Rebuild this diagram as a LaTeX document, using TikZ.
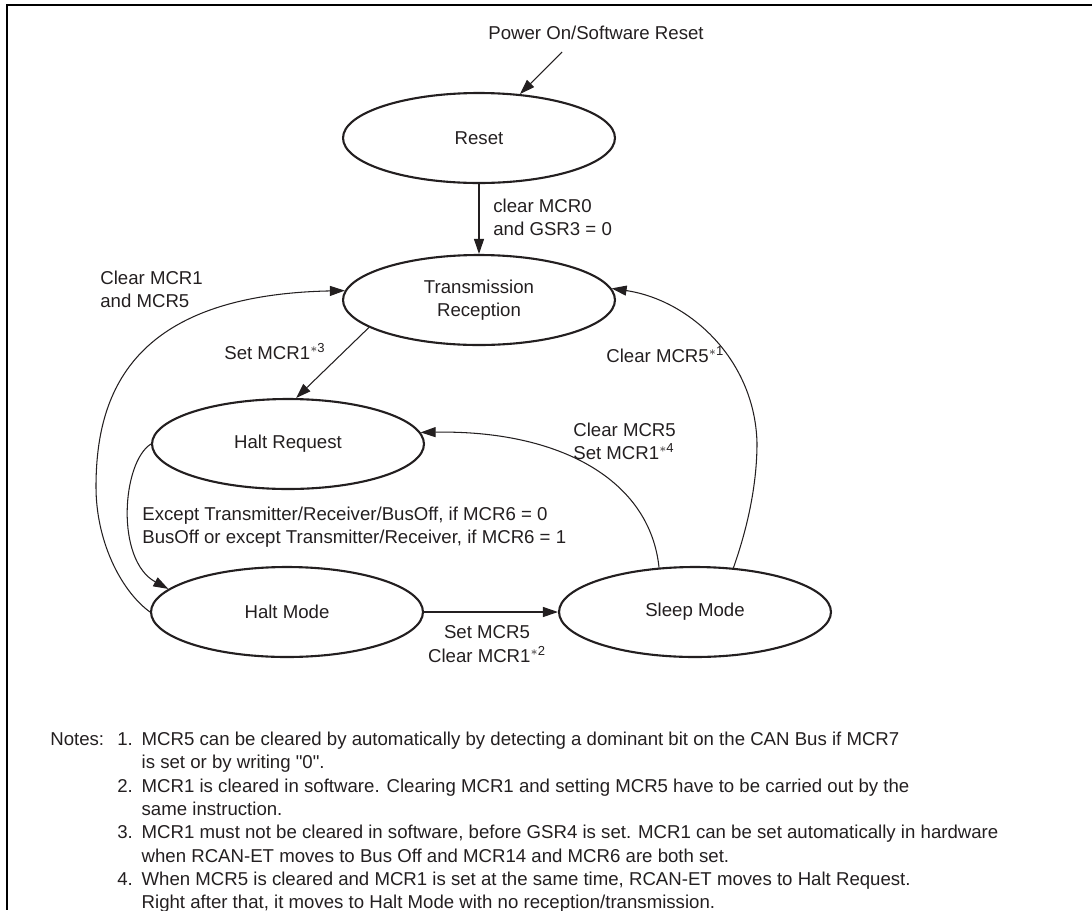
\documentclass[tikz,border=0pt]{standalone}
\usepackage{fontspec}
\setmainfont{Liberation Sans}
\usetikzlibrary{
  arrows.meta,
  shapes.geometric,
  positioning
}
\definecolor{rcInk}{HTML}{231F20}
\newcommand{\astnote}[1]{\textsuperscript{$\ast$#1}}
\tikzset{
  rctext/.style={font=\fontsize{10.6}{13.25}\selectfont, text=rcInk, inner sep=0pt},
  rcstate/.style={
    rctext, draw=rcInk, ellipse, line width=1.2pt,
    minimum width=5.44cm, minimum height=1.8cm, align=center
  },
  move/.style={-{Triangle[length=3mm, width=2mm]}, line width=0.6pt, rcInk},
  cond/.style={rctext, align=left, anchor=west},
  frameline/.style={line width=1.15pt, black}
}

\begin{document}
\begin{tikzpicture}[x=0.02cm, y=-0.02cm]
  \useasboundingbox (0,0) rectangle (1092,910);
  % frame
  \draw[frameline] (6,5) -- (1092,5);
  \draw[frameline] (7,5) -- (7,910);

  % states
  \node[rcstate] (reset) at (479,138) {Reset};
  \node[rcstate] (trx) at (479,300) {Transmission\\Reception};
  \node[rcstate] (haltreq) at (288,444) {Halt Request};
  \node[rcstate] (haltmode) at (287,612) {Halt Mode};
  \node[rcstate] (sleep) at (695,612) {Sleep Mode};

  % conditions
  \node[rctext] (pwr) at (596,33) {Power On/Software Reset};
  \coordinate (pwrtail) at (562,52);
  \node[cond] (c0) at (493,217) {clear MCR0\\and GSR3 = 0};
  \node[cond] (c1) at (100,289) {Clear MCR1\\and MCR5};
  \node[cond] (c3) at (224,352) {Set MCR1\astnote{3}};
  \node[cond] (cbus) at (142,527)
    {Except Transmitter/Receiver/BusOff, if MCR6 = 0\\BusOff or except Transmitter/Receiver, if MCR6 = 1};
  \node[rctext, align=center] (c2) at (487,644) {Set MCR5\\Clear MCR1\astnote{2}};
  \node[cond] (c4) at (573,441) {Clear MCR5\\Set MCR1\astnote{4}};
  \node[cond] (c5) at (606,355) {Clear MCR5\astnote{1}};

  % transitions
  \draw[move] (pwrtail) -- (reset.47);
  \draw[move] (reset) -- (trx);
  \draw[move] (trx.194) -- (haltreq.80);
  \draw[move] (haltreq.west) .. controls (122,462) and (115,560) .. (haltmode.169);
  \draw[move] (haltmode.west) .. controls (120,590) and (96,540) .. (96,487)
    .. controls (96,395) and (130,295) .. (trx.176);
  \draw[move] (haltmode) -- (sleep);
  \draw[move] (sleep.129) .. controls (650,480) and (560,430) .. (haltreq.5);
  \draw[move] (sleep.49) .. controls (745,535) and (757,490) .. (757,443)
    .. controls (755,360) and (690,300) .. (trx.5);

  % notes
  \node[rctext, anchor=north west] (notes) at (50,729) {%
    \begin{tabular}{@{}l@{\hspace{7.5pt}}r@{\hspace{5pt}}l@{}}
      Notes: & 1. & MCR5 can be cleared by automatically by detecting a dominant bit on the CAN Bus if MCR7\\
             &    & is set or by writing \textquotedbl0\textquotedbl.\\
             & 2. & MCR1 is cleared in software. Clearing MCR1 and setting MCR5 have to be carried out by the\\
             &    & same instruction.\\
             & 3. & MCR1 must not be cleared in software, before GSR4 is set. MCR1 can be set automatically in hardware\\
             &    & when RCAN-ET moves to Bus Off and MCR14 and MCR6 are both set.\\
             & 4. & When MCR5 is cleared and MCR1 is set at the same time, RCAN-ET moves to Halt Request.\\
             &    & Right after that, it moves to Halt Mode with no reception/transmission.
    \end{tabular}};
\end{tikzpicture}
\end{document}
